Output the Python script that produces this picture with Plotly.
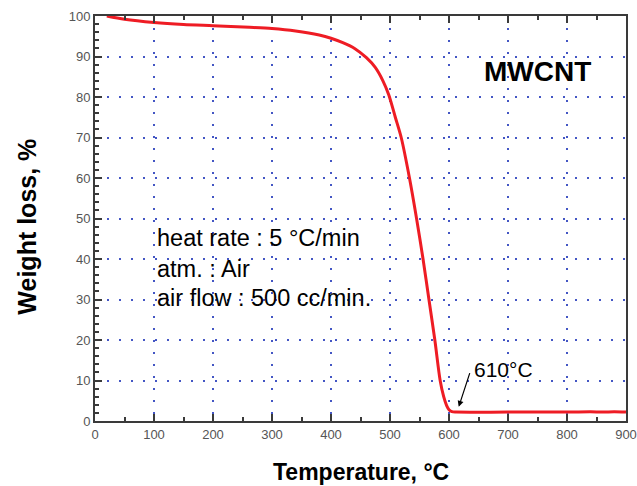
import plotly.graph_objects as go

temperature = [20, 50, 100, 150, 200, 262, 300, 340, 380, 400, 420, 440, 460, 475, 488, 498, 509, 519, 533, 545, 556, 566, 576, 585, 591, 596, 600, 605, 612, 700, 800, 840, 860, 880, 900]
weight = [100, 99.2, 98.4, 97.9, 97.6, 97.2, 96.9, 96.3, 95.3, 94.5, 93.4, 92.0, 89.7, 87.3, 84.0, 80.5, 75.0, 70.0, 60.0, 50.0, 40.0, 30.0, 20.0, 10.0, 6.0, 3.8, 2.8, 2.3, 2.2, 2.2, 2.2, 2.3, 2.2, 2.3, 2.2]

x_ticks = [0, 100, 200, 300, 400, 500, 600, 700, 800, 900]
y_ticks = [0, 10, 20, 30, 40, 50, 60, 70, 80, 90, 100]

x_title = "Temperature, °C"
y_title = "Weight loss, %"
sample_label = "MWCNT"
conditions = ["heat rate : 5 °C/min", "atm. : Air", "air flow : 500 cc/min."]
condition_y = [45.2, 37.6, 30.4]
peak_label = "610°C"

FONT = "Liberation Sans, Arial, sans-serif"

fig = go.Figure()
fig.add_trace(go.Scatter(x=temperature, y=weight, mode="lines",
                         line=dict(color="#ee1c24", width=3, shape="spline", smoothing=0.8),
                         showlegend=False))

axis_common = dict(
    showline=True, linecolor="#3a3a3a", linewidth=2,
    ticks="inside", ticklen=7, tickwidth=1.5, tickcolor="#3a3a3a",
    showgrid=True, gridcolor="#4456c4", gridwidth=1.5, griddash="2px,10px",
    zeroline=False, automargin=False,
    tickfont=dict(family=FONT, size=13, color="#555555"),
)

fig.update_xaxes(range=[0, 900], tickvals=x_ticks, mirror="ticks",
                 minor=dict(dtick=50, ticks="inside", ticklen=4, tickcolor="#3a3a3a", showgrid=False),
                 **axis_common)
fig.update_yaxes(range=[0, 100], tickvals=y_ticks, mirror=True,
                 minor=dict(dtick=2, ticks="inside", ticklen=4, tickcolor="#3a3a3a", showgrid=False),
                 **axis_common)

# axis titles as annotations for exact placement
fig.add_annotation(xref="paper", yref="paper", x=0.5, y=-0.126, text=x_title, showarrow=False,
                   yanchor="middle", font=dict(family=FONT, size=23, color="black", weight="bold"))
fig.add_annotation(xref="paper", yref="paper", x=-0.128, y=0.48, text=y_title, showarrow=False,
                   textangle=-90, xanchor="center", yanchor="middle",
                   font=dict(family=FONT, size=25, color="black", weight="bold"))

fig.add_annotation(x=750, y=86.2, text=sample_label, showarrow=False,
                   font=dict(family=FONT, size=28, color="black", weight="bold"))
for t, yv in zip(conditions, condition_y):
    fig.add_annotation(x=101, y=yv, text=t, showarrow=False, xanchor="left", yanchor="middle",
                       font=dict(family=FONT, size=23.5, color="black"))
fig.add_annotation(x=639, y=12.8, text=peak_label, showarrow=False, xanchor="left", yanchor="middle",
                   font=dict(family=FONT, size=21, color="black"))
fig.add_annotation(x=616.5, y=3.5, ax=636, ay=12.2, axref="x", ayref="y", text="",
                   showarrow=True, arrowhead=2, arrowsize=1, arrowwidth=1.2, arrowcolor="black")

fig.update_layout(width=637, height=486, margin=dict(l=95, r=11, t=16, b=65),
                  plot_bgcolor="white", paper_bgcolor="white")

fig.write_html("out.html")
